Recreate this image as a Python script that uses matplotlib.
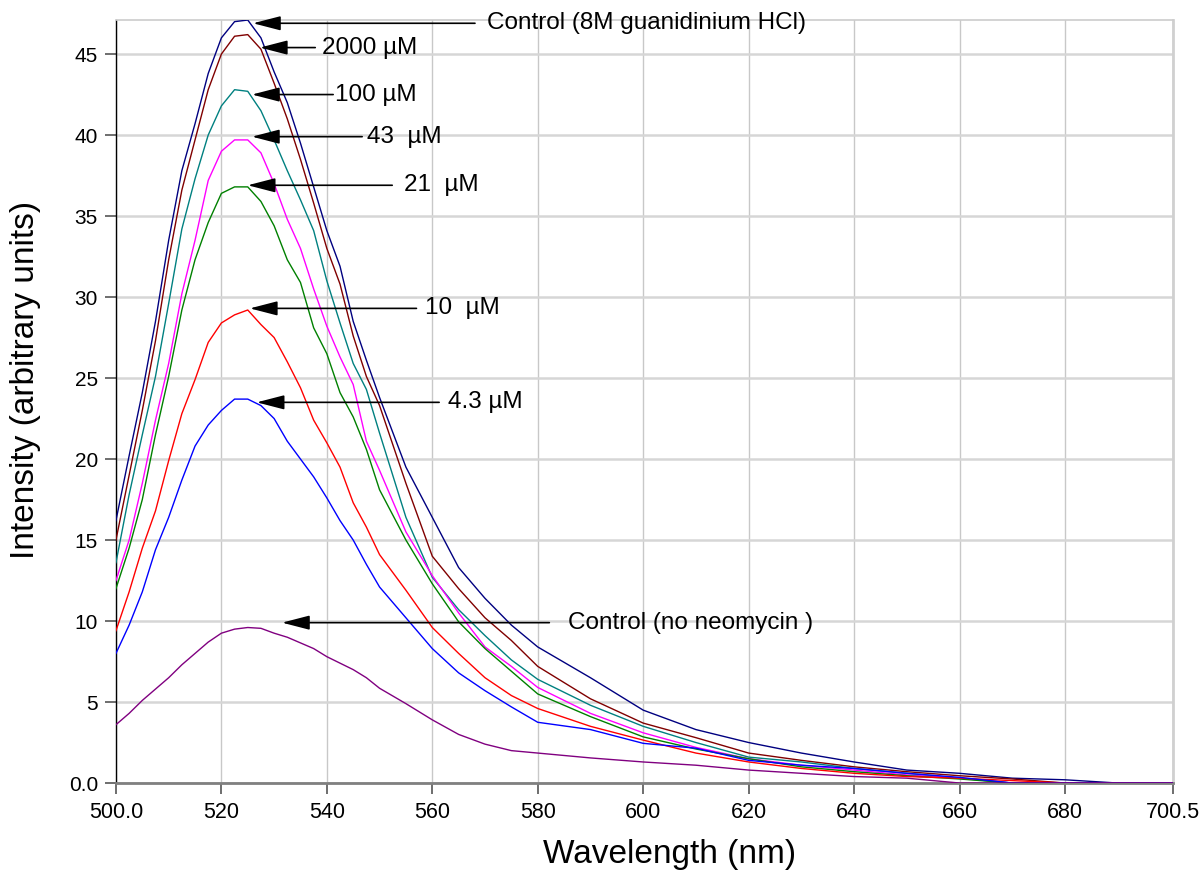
import matplotlib
matplotlib.use("Agg")
import matplotlib.pyplot as plt

plt.rcParams['font.family'] = ['Liberation Sans', 'DejaVu Sans']

# wavelength grid (nm)
wl = [500, 502.5, 505, 507.5, 510, 512.5, 515, 517.5, 520, 522.5, 525, 527.5,
      530, 532.5, 535, 537.5, 540, 542.5, 545, 547.5, 550,
      555, 560, 565, 570, 575, 580,
      590, 600, 610, 620, 630, 640, 650, 660, 670, 680, 690, 700.5]

# intensities
ctrl_gdn = [16.2, 20.2, 24.1, 28.5, 33.5, 37.8, 40.7, 43.8, 46.0, 47.0, 47.1, 46.0,
            43.9, 42.0, 39.5, 36.8, 34.1, 31.9, 28.5, 26.1, 23.8,
            19.5, 16.4, 13.3, 11.4, 9.75, 8.4,
            6.5, 4.5, 3.3, 2.5, 1.85, 1.3, 0.8, 0.6, 0.3, 0.2, 0.0, 0.0]
c2000 = [15.0, 19.0, 23.0, 27.3, 32.3, 36.6, 39.7, 42.8, 45.0, 46.1, 46.2, 45.3,
         43.2, 41.0, 38.5, 35.8, 33.0, 30.8, 27.6, 25.1, 23.3,
         18.5, 14.0, 12.0, 10.2, 8.8, 7.2,
         5.2, 3.7, 2.8, 1.85, 1.4, 1.0, 0.7, 0.45, 0.25, 0.0, 0.0, 0.0]
c100 = [13.6, 17.8, 21.5, 25.1, 29.6, 34.2, 37.3, 40.0, 41.8, 42.8, 42.7, 41.5,
        39.7, 37.8, 36.0, 34.1, 31.0, 28.4, 25.9, 24.3, 21.6,
        16.4, 12.7, 10.7, 9.1, 7.6, 6.4,
        4.8, 3.5, 2.5, 1.6, 1.3, 0.9, 0.6, 0.3, 0.0, 0.0, 0.0, 0.0]
c43 = [12.5, 15.0, 18.5, 22.4, 25.9, 30.2, 33.5, 37.2, 39.0, 39.7, 39.7, 38.9,
       37.0, 34.8, 33.0, 30.5, 28.2, 26.3, 24.6, 21.1, 19.3,
       15.5, 12.8, 10.5, 8.4, 7.2, 5.9,
       4.3, 3.1, 2.2, 1.5, 1.1, 0.8, 0.5, 0.3, 0.0, 0.0, 0.0, 0.0]
c21 = [12.0, 14.5, 17.5, 21.5, 25.1, 29.2, 32.3, 34.6, 36.4, 36.8, 36.8, 35.9,
       34.4, 32.3, 30.9, 28.1, 26.5, 24.1, 22.6, 20.6, 18.1,
       15.0, 12.3, 9.95, 8.3, 6.9, 5.5,
       4.1, 2.85, 2.1, 1.5, 1.0, 0.7, 0.45, 0.25, 0.0, 0.0, 0.0, 0.0]
c10 = [9.4, 11.8, 14.5, 16.8, 19.9, 22.8, 24.9, 27.2, 28.4, 28.9, 29.2, 28.3,
       27.5, 26.0, 24.4, 22.4, 21.0, 19.5, 17.3, 15.8, 14.1,
       11.9, 9.6, 8.0, 6.5, 5.4, 4.6,
       3.5, 2.65, 1.85, 1.3, 0.9, 0.6, 0.4, 0.3, 0.15, 0.0, 0.0, 0.0]
c4_3 = [8.0, 9.75, 11.8, 14.4, 16.4, 18.7, 20.8, 22.1, 23.0, 23.7, 23.7, 23.3,
        22.5, 21.1, 20.0, 18.9, 17.6, 16.2, 15.0, 13.5, 12.1,
        10.2, 8.3, 6.8, 5.7, 4.7, 3.75,
        3.3, 2.45, 2.15, 1.4, 1.1, 0.9, 0.6, 0.35, 0.0, 0.0, 0.0, 0.0]
ctrl_none = [3.6, 4.3, 5.1, 5.8, 6.5, 7.3, 8.0, 8.7, 9.25, 9.5, 9.6, 9.55,
             9.25, 9.0, 8.65, 8.3, 7.8, 7.4, 7.0, 6.5, 5.85,
             4.9, 3.9, 3.0, 2.4, 2.0, 1.85,
             1.55, 1.3, 1.1, 0.8, 0.6, 0.4, 0.3, 0.0, 0.0, 0.0, 0.0, 0.0]

series = [ctrl_gdn, c2000, c100, c43, c21, c10, c4_3, ctrl_none]
colors = ['#000080', '#800000', '#008080', '#ff00ff', '#008000', '#ff0000',
          '#0000ff', '#800080']

# annotations: label, arrow tip (x, y), arrow tail x, text x
labels = ['Control (8M guanidinium HCl)', '2000 µM', '100 µM', '43  µM',
          '21  µM', '10  µM', '4.3 µM', 'Control (no neomycin )']
tip_x = [526.0, 527.3, 525.8, 525.8, 525.0, 525.4, 526.7, 531.5]
tip_y = [46.9, 45.4, 42.5, 39.9, 36.9, 29.3, 23.5, 9.9]
tail_x = [568.1, 537.8, 541.2, 546.7, 552.4, 557.0, 561.3, 582.2]
text_x = [570.4, 539.1, 541.6, 547.6, 554.6, 558.6, 563.0, 585.8]

fig = plt.figure(figsize=(12.04, 8.71), dpi=100)
ax = fig.add_axes([0.0963, 0.101, 0.878, 0.876])

for y, c in zip(series, colors):
    ax.plot(wl, y, color=c, lw=1.0, zorder=3)

for lab, tx, ty, ex, sx in zip(labels, tip_x, tip_y, tail_x, text_x):
    ax.annotate('', xy=(tx, ty), xytext=(ex, ty),
                arrowprops=dict(arrowstyle='-|>,head_length=0.85,head_width=0.22',
                                color='black', lw=1.2, mutation_scale=20,
                                shrinkA=0, shrinkB=0),
                zorder=4)
    ax.text(sx, ty, lab, fontsize=17.5, ha='left', va='center', zorder=5,
            clip_on=False)

ax.set_xlim(500, 700.5)
ax.set_ylim(0, 47.1)

xt = [500, 520, 540, 560, 580, 600, 620, 640, 660, 680, 700.5]
ax.set_xticks(xt)
ax.set_xticklabels(['500.0'] + [str(v) for v in xt[1:-1]] + ['700.5'])
yt = [0, 5, 10, 15, 20, 25, 30, 35, 40, 45]
ax.set_yticks(yt)
ax.set_yticklabels(['0.0'] + [str(v) for v in yt[1:]])

ax.tick_params(axis='x', length=8, width=1.2, color='#555555', labelsize=15.5, pad=6)
ax.tick_params(axis='y', length=8, width=1.2, color='#555555', labelsize=15, pad=5)

ax.yaxis.grid(True, color='#d6d6d6', lw=1.8)
ax.xaxis.grid(True, color='#c8c8c8', lw=1.0)
ax.set_axisbelow(True)

ax.spines['left'].set_color('black')
ax.spines['left'].set_linewidth(1.0)
ax.spines['bottom'].set_color('#808080')
ax.spines['bottom'].set_linewidth(2.0)
ax.spines['top'].set_color('#cccccc')
ax.spines['top'].set_linewidth(1.2)
ax.spines['right'].set_color('#d0d0d0')
ax.spines['right'].set_linewidth(2.0)

fig.text(0.5565, 0.019, 'Wavelength (nm)', fontsize=24, ha='center', va='center')
fig.text(0.021, 0.5637, 'Intensity (arbitrary units)', fontsize=24,
         ha='center', va='center', rotation=90)

fig.savefig('out.png', dpi=100)
